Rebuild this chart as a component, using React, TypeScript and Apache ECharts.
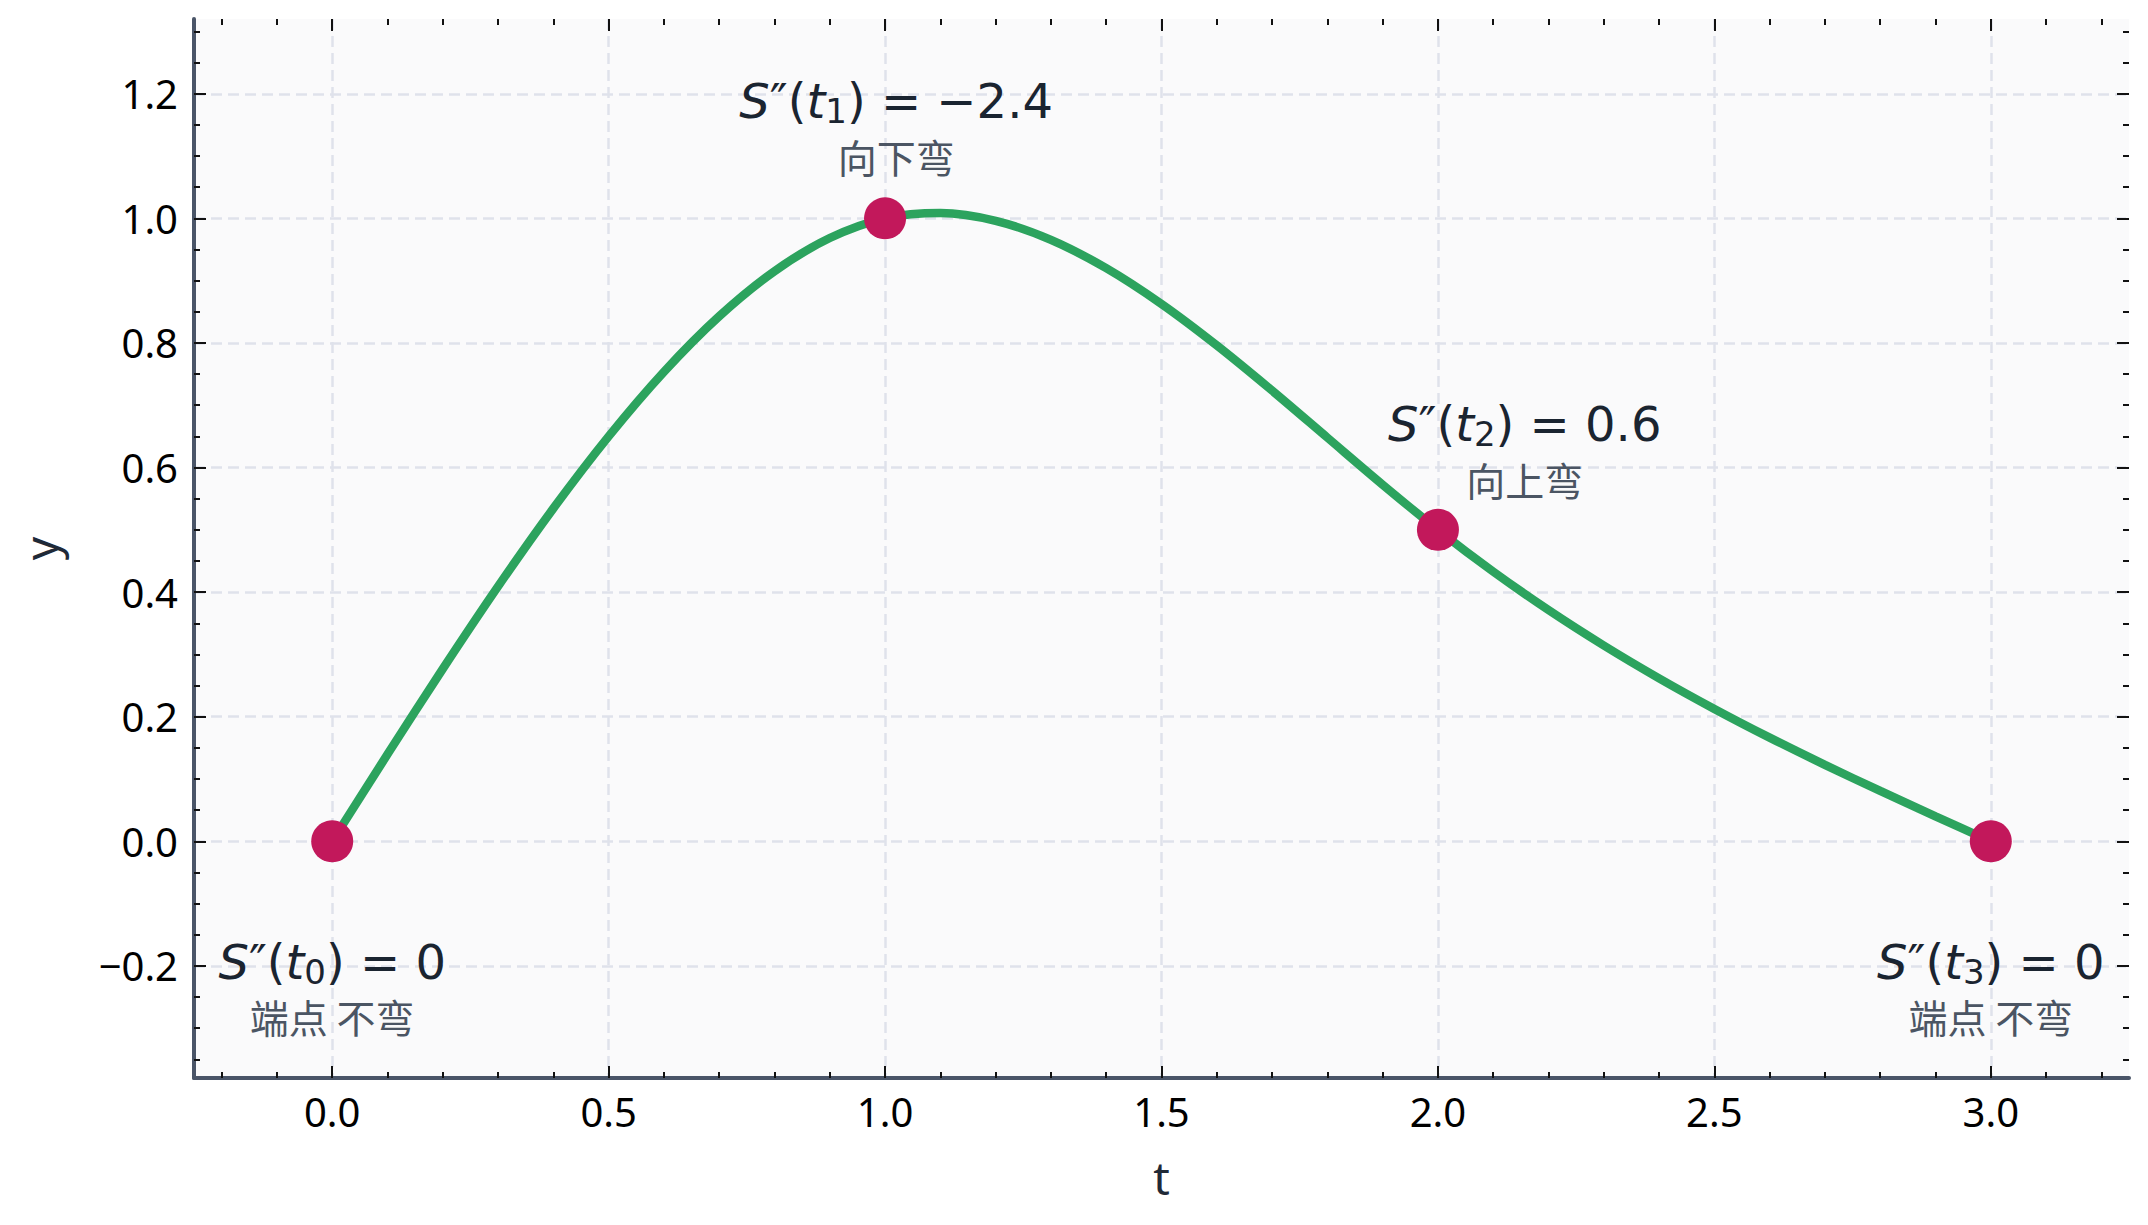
import React, { useEffect, useRef } from 'react';
import * as echarts from 'echarts';

// Spline curve
const curveT = [0, 0.1, 0.2, 0.3, 0.4, 0.5, 0.6, 0.7, 0.8, 0.9, 1.0, 1.1, 1.2, 1.3, 1.4, 1.5, 1.6, 1.7, 1.8, 1.9, 2.0, 2.1, 2.2, 2.3, 2.4, 2.5, 2.6, 2.7, 2.8, 2.9, 3.0];
const curveY = [0, 0.1396, 0.2768, 0.4092, 0.5344, 0.65, 0.7536, 0.8428, 0.9152, 0.9684, 1.0, 1.0085, 0.996, 0.9655, 0.92, 0.8625, 0.796, 0.7235, 0.648, 0.5725, 0.5, 0.4329, 0.3712, 0.3143, 0.2616, 0.2125, 0.1664, 0.1227, 0.0808, 0.0401, 0];

// Knots
const knotT = [0, 1, 2, 3];
const knotY = [0, 1, 0.5, 0];

// Annotations
const annotIndex = ['0', '1', '2', '3'];
const annotValue = ['0', '\u22122.4', '0.6', '0'];
const annotNote = ['端点 不弯', '向下弯', '向上弯', '端点 不弯'];
const annotX = [0, 1.02, 2.157, 3];
const annotMainY = [-0.193, 1.188, 0.67, -0.193];
const annotNoteY = [-0.28, 1.1, 0.581, -0.28];

// Ticks
const xMajorTicks = [0, 0.5, 1.0, 1.5, 2.0, 2.5, 3.0];
const xMinorTicks = [-0.2, -0.1, 0.1, 0.2, 0.3, 0.4, 0.6, 0.7, 0.8, 0.9, 1.1, 1.2, 1.3, 1.4, 1.6, 1.7, 1.8, 1.9, 2.1, 2.2, 2.3, 2.4, 2.6, 2.7, 2.8, 2.9, 3.1, 3.2];
const yMajorTicks = [-0.2, 0, 0.2, 0.4, 0.6, 0.8, 1.0, 1.2];
const yMinorTicks = [-0.35, -0.3, -0.25, -0.15, -0.1, -0.05, 0.05, 0.1, 0.15, 0.25, 0.3, 0.35, 0.45, 0.5, 0.55, 0.65, 0.7, 0.75, 0.85, 0.9, 0.95, 1.05, 1.1, 1.15, 1.25, 1.3];

const X_MIN = -0.25;
const X_MAX = 3.25;
const Y_MIN = -0.38;
const Y_MAX = 1.32;

const SPINE = '#4a5568';
const TICK = '#111111';
const GRIDLINE = '#dfe2eb';
const LABEL_FONT = 'Noto Sans';
const MAIN_COLOR = '#1a2430';
const NOTE_COLOR = '#4b5563';

function fmt(v: number) {
  const s = Math.abs(v) < 1e-9 ? '0.0' : Math.abs(v).toFixed(1);
  return (v < -1e-9 ? '\u2212' : '') + s;
}

function tickAxis(kind: 'x' | 'y', position: string, values: number[], length: number) {
  const isX = kind === 'x';
  return {
    type: 'value',
    gridIndex: 0,
    position,
    min: isX ? X_MIN : Y_MIN,
    max: isX ? X_MAX : Y_MAX,
    axisLine: { show: false, onZero: false },
    axisTick: { show: true, inside: true, length, customValues: values, lineStyle: { color: TICK, width: 2 } },
    axisLabel: { show: false },
    splitLine: { show: false },
    silent: true,
  };
}

export default function App() {
  const ref = useRef<HTMLDivElement>(null);

  useEffect(() => {
    if (!ref.current) return;
    const chart = echarts.init(ref.current, null, { renderer: 'svg', width: 2148, height: 1225 });

    const tok = { textBorderWidth: 0, textBorderColor: 'transparent', textShadowBlur: 0, color: MAIN_COLOR, opacity: 1 };
    const mainRich = {
      n: { ...tok, fontFamily: 'DejaVu Sans', fontSize: 48, lineHeight: 54 },
      i: { ...tok, fontFamily: 'DejaVu Sans', fontStyle: 'italic', fontSize: 48, lineHeight: 54 },
      s: { ...tok, fontFamily: 'DejaVu Sans', fontSize: 34, lineHeight: 26, verticalAlign: 'bottom' },
    };

    const option: any = {
      animation: false,
      backgroundColor: '#ffffff',
      grid: {
        left: 194,
        right: 19,
        top: 19,
        bottom: 147,
        show: true,
        backgroundColor: '#fafafb',
        borderWidth: 0,
        containLabel: false,
        outerBoundsMode: 'none',
      },
      xAxis: [
        {
          type: 'value',
          gridIndex: 0,
          position: 'bottom',
          min: X_MIN,
          max: X_MAX,
          name: 't',
          nameLocation: 'middle',
          nameGap: 76,
          nameTextStyle: { fontFamily: LABEL_FONT, fontSize: 46, color: '#1f2937' },
          axisLine: { show: true, onZero: false, lineStyle: { color: SPINE, width: 4 } },
          axisTick: { show: true, inside: true, length: 12, customValues: xMajorTicks, lineStyle: { color: TICK, width: 2 } },
          axisLabel: { show: true, customValues: xMajorTicks, formatter: fmt, fontFamily: LABEL_FONT, fontSize: 40, color: '#000000', margin: 13 },
          splitLine: { show: true, lineStyle: { color: GRIDLINE, width: 2.5, type: [11, 6] } },
        },
        tickAxis('x', 'bottom', xMinorTicks, 6),
        tickAxis('x', 'top', xMajorTicks, 12),
        tickAxis('x', 'top', xMinorTicks, 6),
      ],
      yAxis: [
        {
          type: 'value',
          gridIndex: 0,
          position: 'left',
          min: Y_MIN,
          max: Y_MAX,
          name: 'y',
          nameLocation: 'middle',
          nameGap: 131,
          nameRotate: 90,
          nameTextStyle: { fontFamily: LABEL_FONT, fontSize: 46, color: '#1f2937' },
          axisLine: { show: true, onZero: false, lineStyle: { color: SPINE, width: 4 } },
          axisTick: { show: true, inside: true, length: 12, customValues: yMajorTicks, lineStyle: { color: TICK, width: 2 } },
          axisLabel: { show: true, customValues: yMajorTicks, formatter: fmt, fontFamily: LABEL_FONT, fontSize: 40, color: '#000000', margin: 16 },
          splitLine: { show: true, lineStyle: { color: GRIDLINE, width: 2.5, type: [11, 6] } },
        },
        tickAxis('y', 'left', yMinorTicks, 6),
        tickAxis('y', 'right', yMajorTicks, 12),
        tickAxis('y', 'right', yMinorTicks, 6),
      ],
      series: [
        {
          type: 'line',
          xAxisIndex: 0,
          yAxisIndex: 0,
          data: curveT.map((t, i) => [t, curveY[i]]),
          showSymbol: false,
          smooth: 0.3,
          lineStyle: { color: '#2ca35e', width: 8.5 },
          silent: true,
          z: 2,
        },
        {
          type: 'scatter',
          xAxisIndex: 0,
          yAxisIndex: 0,
          data: knotT.map((t, i) => [t, knotY[i]]),
          symbol: 'circle',
          symbolSize: 42,
          itemStyle: { color: '#c2185b', opacity: 1 },
          silent: true,
          z: 3,
        },
        {
          type: 'scatter',
          xAxisIndex: 0,
          yAxisIndex: 0,
          symbolSize: 0,
          silent: true,
          z: 4,
          itemStyle: { color: MAIN_COLOR, opacity: 1 },
          data: annotX.map((x, i) => ({
            value: [x, annotMainY[i]],
            label: {
              show: true,
              position: 'inside',
              color: MAIN_COLOR,
              opacity: 1,
              textBorderWidth: 0,
              textBorderColor: 'transparent',
              formatter: `{i|S}{n|\u2033(}{i|t}{s|${annotIndex[i]}}{n|) = ${annotValue[i]}}`,
              rich: mainRich,
            },
          })),
        },
        {
          type: 'scatter',
          xAxisIndex: 0,
          yAxisIndex: 0,
          symbolSize: 0,
          silent: true,
          z: 4,
          itemStyle: { color: NOTE_COLOR, opacity: 1 },
          data: annotX.map((x, i) => ({
            value: [x, annotNoteY[i]],
            label: {
              show: true,
              position: 'inside',
              formatter: annotNote[i],
              fontFamily: 'Noto Sans CJK SC',
              fontSize: 39,
              lineHeight: 40,
              color: NOTE_COLOR,
              opacity: 1,
              textBorderWidth: 0,
              textBorderColor: 'transparent',
            },
          })),
        },
      ],
    };

    chart.setOption(option);
    return () => {
      chart.dispose();
    };
  }, []);

  return (
    <div
      ref={ref}
      style={{ position: 'absolute', left: 0, top: 0, width: 2148, height: 1225, background: '#ffffff' }}
    />
  );
}
